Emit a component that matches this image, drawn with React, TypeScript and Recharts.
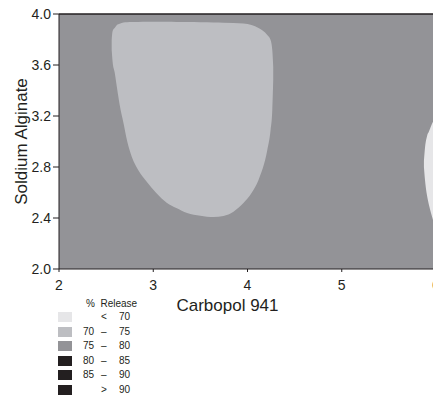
import React from "react"
import {
  ComposedChart,
  Area,
  XAxis,
  YAxis,
  CartesianGrid,
  ReferenceLine,
} from "recharts"

// light region (70 - 75 % release), read along x
const blobX = [2.559, 2.569, 2.59, 2.614, 2.644, 2.684, 2.723, 2.773, 2.84, 2.933, 3.032, 3.146, 3.245, 3.359, 3.5, 3.638, 3.745, 3.957, 4.043, 4.117, 4.21, 4.245, 4.263, 4.273]
const blobTop = [3.796, 3.867, 3.89, 3.914, 3.924, 3.933, 3.935, 3.937, 3.938, 3.94, 3.94, 3.939, 3.938, 3.937, 3.935, 3.933, 3.931, 3.925, 3.914, 3.89, 3.835, 3.796, 3.718, 3.584]
const blobBottom = [3.718, 3.624, 3.545, 3.427, 3.286, 3.145, 3.004, 2.878, 2.776, 2.682, 2.596, 2.518, 2.478, 2.439, 2.418, 2.408, 2.416, 2.518, 2.596, 2.698, 2.933, 3.09, 3.247, 3.482]

// very light spot at right edge (< 70 % release)
const spotX = [5.872, 5.883, 5.904, 5.926, 5.947, 5.979, 6.0]
const spotTop = [2.85, 2.95, 3.04, 3.08, 3.12, 3.17, 3.2]
const spotBottom = [2.8, 2.7, 2.58, 2.5, 2.44, 2.36, 2.32]

const xTicks = [2, 3, 4, 5, 6]
const yTicks = [2.0, 2.4, 2.8, 3.2, 3.6, 4.0]

const legendLow = ["", "70", "75", "80", "85", ""]
const legendSep = ["<", "\u2013", "\u2013", "\u2013", "\u2013", ">"]
const legendHigh = ["70", "75", "80", "85", "90", "90"]
const legendColors = ["#e6e6e8", "#bdbec2", "#939397", "#231f20", "#231f20", "#231f20"]

const INK = "#231f20"
const FONT = "'Liberation Sans', Arial, sans-serif"

const data = [
  ...blobX.map((x, i) => ({ x, blob: [blobBottom[i], blobTop[i]] })),
  ...spotX.map((x, i) => ({ x, spot: [spotBottom[i], spotTop[i]] })),
]

function ReleaseLegend() {
  return (
    <div style={{ position: "absolute", left: 0, top: 0, fontFamily: FONT, fontSize: 10, color: INK }}>
      <div style={{ position: "absolute", left: 86, top: 298, whiteSpace: "nowrap" }}>
        %&nbsp;&nbsp;Release
      </div>
      {legendColors.map((c, i) => (
        <div key={i} style={{ position: "absolute", left: 0, top: 311 + i * 14.6, height: 12, width: 140 }}>
          <div style={{ position: "absolute", left: 58, top: 1, width: 14, height: 10, background: c }} />
          <span style={{ position: "absolute", right: 140 - 94, top: 0, lineHeight: "12px" }}>{legendLow[i]}</span>
          <span style={{ position: "absolute", left: 101, top: 0, lineHeight: "12px" }}>{legendSep[i]}</span>
          <span style={{ position: "absolute", left: 119, top: 0, lineHeight: "12px" }}>{legendHigh[i]}</span>
        </div>
      ))}
    </div>
  )
}

export default function App() {
  return (
    <div style={{ position: "fixed", left: 0, top: 0, width: 433, height: 395, overflow: "hidden", background: "#fff" }}>
      <ComposedChart
        width={436}
        height={395}
        data={data}
        margin={{ top: 14, right: 0, left: 0, bottom: 96 }}
        style={{ fontFamily: FONT }}
      >
        <CartesianGrid horizontal={false} vertical={false} fill="#939397" fillOpacity={1} stroke="none" />
        <XAxis
          dataKey="x"
          type="number"
          domain={[2, 6]}
          ticks={xTicks}
          interval={0}
          height={30}
          tickSize={3}
          tickMargin={8}
          tick={{ fill: INK, fontSize: 14 }}
          stroke={INK}
          allowDataOverflow
          label={{ value: "Carbopol 941", position: "bottom", offset: 0, dx: -20, fill: INK, fontSize: 17 }}
        />
        <YAxis
          type="number"
          domain={[2, 4]}
          ticks={yTicks}
          interval={0}
          width={59}
          tickSize={6}
          tickMargin={2}
          tickFormatter={(v: number) => v.toFixed(1)}
          tick={{ fill: INK, fontSize: 14 }}
          stroke={INK}
          allowDataOverflow
          label={{ value: "Soldium Alginate", angle: -90, position: "center", dx: -9, fill: INK, fontSize: 17 }}
        />
        <Area
          dataKey="blob"
          type="monotone"
          stroke="none"
          fill="#bdbec2"
          fillOpacity={1}
          dot={false}
          activeDot={false}
          isAnimationActive={false}
        />
        <Area
          dataKey="spot"
          type="monotone"
          stroke="none"
          fill="#e6e6e8"
          fillOpacity={1}
          dot={false}
          activeDot={false}
          isAnimationActive={false}
        />
        <ReferenceLine y={4} stroke={INK} strokeWidth={1.5} />
      </ComposedChart>
      <ReleaseLegend />
    </div>
  )
}
